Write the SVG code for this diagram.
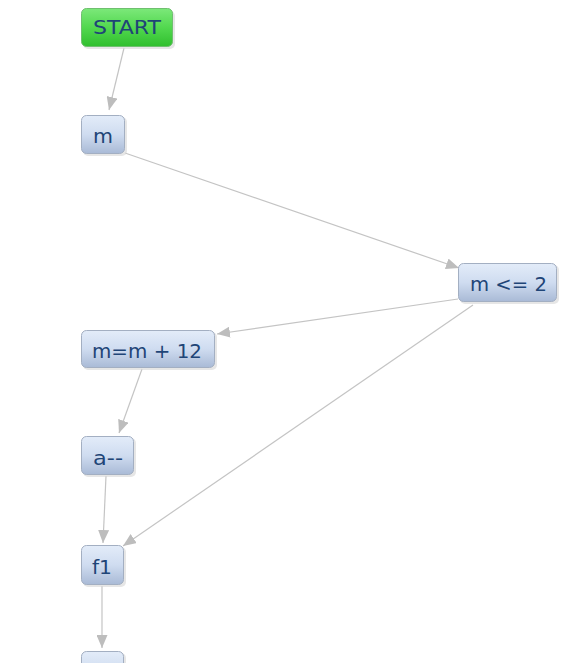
<svg xmlns="http://www.w3.org/2000/svg" width="578" height="663" viewBox="0 0 578 663">
<defs>
<linearGradient id="gBlue" x1="0" y1="0" x2="0" y2="1">
<stop offset="0" stop-color="#e3ecf9"/>
<stop offset="0.5" stop-color="#cfdcf0"/>
<stop offset="1" stop-color="#a9bad6"/>
</linearGradient>
<linearGradient id="gGreen" x1="0" y1="0" x2="0" y2="1">
<stop offset="0" stop-color="#7ce87a"/>
<stop offset="0.5" stop-color="#52d84f"/>
<stop offset="1" stop-color="#30bf2e"/>
</linearGradient>
<marker id="arr" viewBox="0 0 13 11" refX="13" refY="5.5" markerWidth="13" markerHeight="11" markerUnits="userSpaceOnUse" orient="auto">
<path d="M0,0 L13,5.5 L0,11 z" fill="#bdbdbd"/>
</marker>
</defs>
<style>
.node rect.box{fill:url(#gBlue);stroke:#a3afc2;stroke-width:1}
.node rect.sh{fill:#d6d6d6;opacity:0.6}
.start rect.box{fill:url(#gGreen);stroke:#6fbf6f;stroke-width:1}
.node text{font-family:"DejaVu Sans","Open Sans",sans-serif;font-size:19px;fill:#1f4577}
.edge{fill:none;stroke:#c4c4c4;stroke-width:1.2;marker-end:url(#arr)}
</style>
<g id="edges">
<line class="edge" x1="124" y1="48" x2="109" y2="110"/>
<line class="edge" x1="125" y1="153" x2="459" y2="268"/>
<line class="edge" x1="458" y1="299" x2="217" y2="334"/>
<line class="edge" x1="473" y1="305" x2="123" y2="546"/>
<line class="edge" x1="142" y1="369" x2="119" y2="433"/>
<line class="edge" x1="106" y1="476" x2="103" y2="543"/>
<line class="edge" x1="102" y1="586" x2="102" y2="648"/>
</g>
<g id="node-start" class="node start">
<rect class="sh" x="83" y="11" width="92" height="38" rx="5"/>
<rect class="box" x="81.5" y="8.5" width="91" height="38" rx="5"/>
<text x="127" y="34" text-anchor="middle" textLength="68" lengthAdjust="spacingAndGlyphs">START</text>
</g>
<g id="node-m" class="node">
<rect class="sh" x="83" y="117" width="44" height="39" rx="5"/>
<rect class="box" x="81.5" y="115.5" width="43" height="38" rx="5"/>
<text x="103" y="143" text-anchor="middle" textLength="20" lengthAdjust="spacingAndGlyphs">m</text>
</g>
<g id="node-cond" class="node">
<rect class="sh" x="460" y="265" width="99" height="39" rx="5"/>
<rect class="box" x="458.5" y="263.5" width="98" height="38" rx="5"/>
<text x="508.5" y="291" text-anchor="middle" textLength="77" lengthAdjust="spacingAndGlyphs">m &lt;= 2</text>
</g>
<g id="node-add" class="node">
<rect class="sh" x="83" y="332" width="134" height="38" rx="5"/>
<rect class="box" x="81.5" y="330.5" width="133" height="37" rx="5"/>
<text x="147" y="358" text-anchor="middle" textLength="110" lengthAdjust="spacingAndGlyphs">m=m + 12</text>
</g>
<g id="node-dec" class="node">
<rect class="sh" x="83" y="438" width="53" height="39" rx="5"/>
<rect class="box" x="81.5" y="436.5" width="52" height="38" rx="5"/>
<text x="108" y="465" text-anchor="middle" textLength="30" lengthAdjust="spacingAndGlyphs">a--</text>
</g>
<g id="node-f1" class="node">
<rect class="sh" x="83" y="547" width="43" height="40" rx="5"/>
<rect class="box" x="81.5" y="545.5" width="42" height="39" rx="5"/>
<text x="102" y="574" text-anchor="middle" textLength="20" lengthAdjust="spacingAndGlyphs">f1</text>
</g>
<g id="node-next" class="node">
<rect class="sh" x="83" y="653" width="43" height="40" rx="5"/>
<rect class="box" x="81.5" y="651.5" width="42" height="39" rx="5"/>
</g>
</svg>
